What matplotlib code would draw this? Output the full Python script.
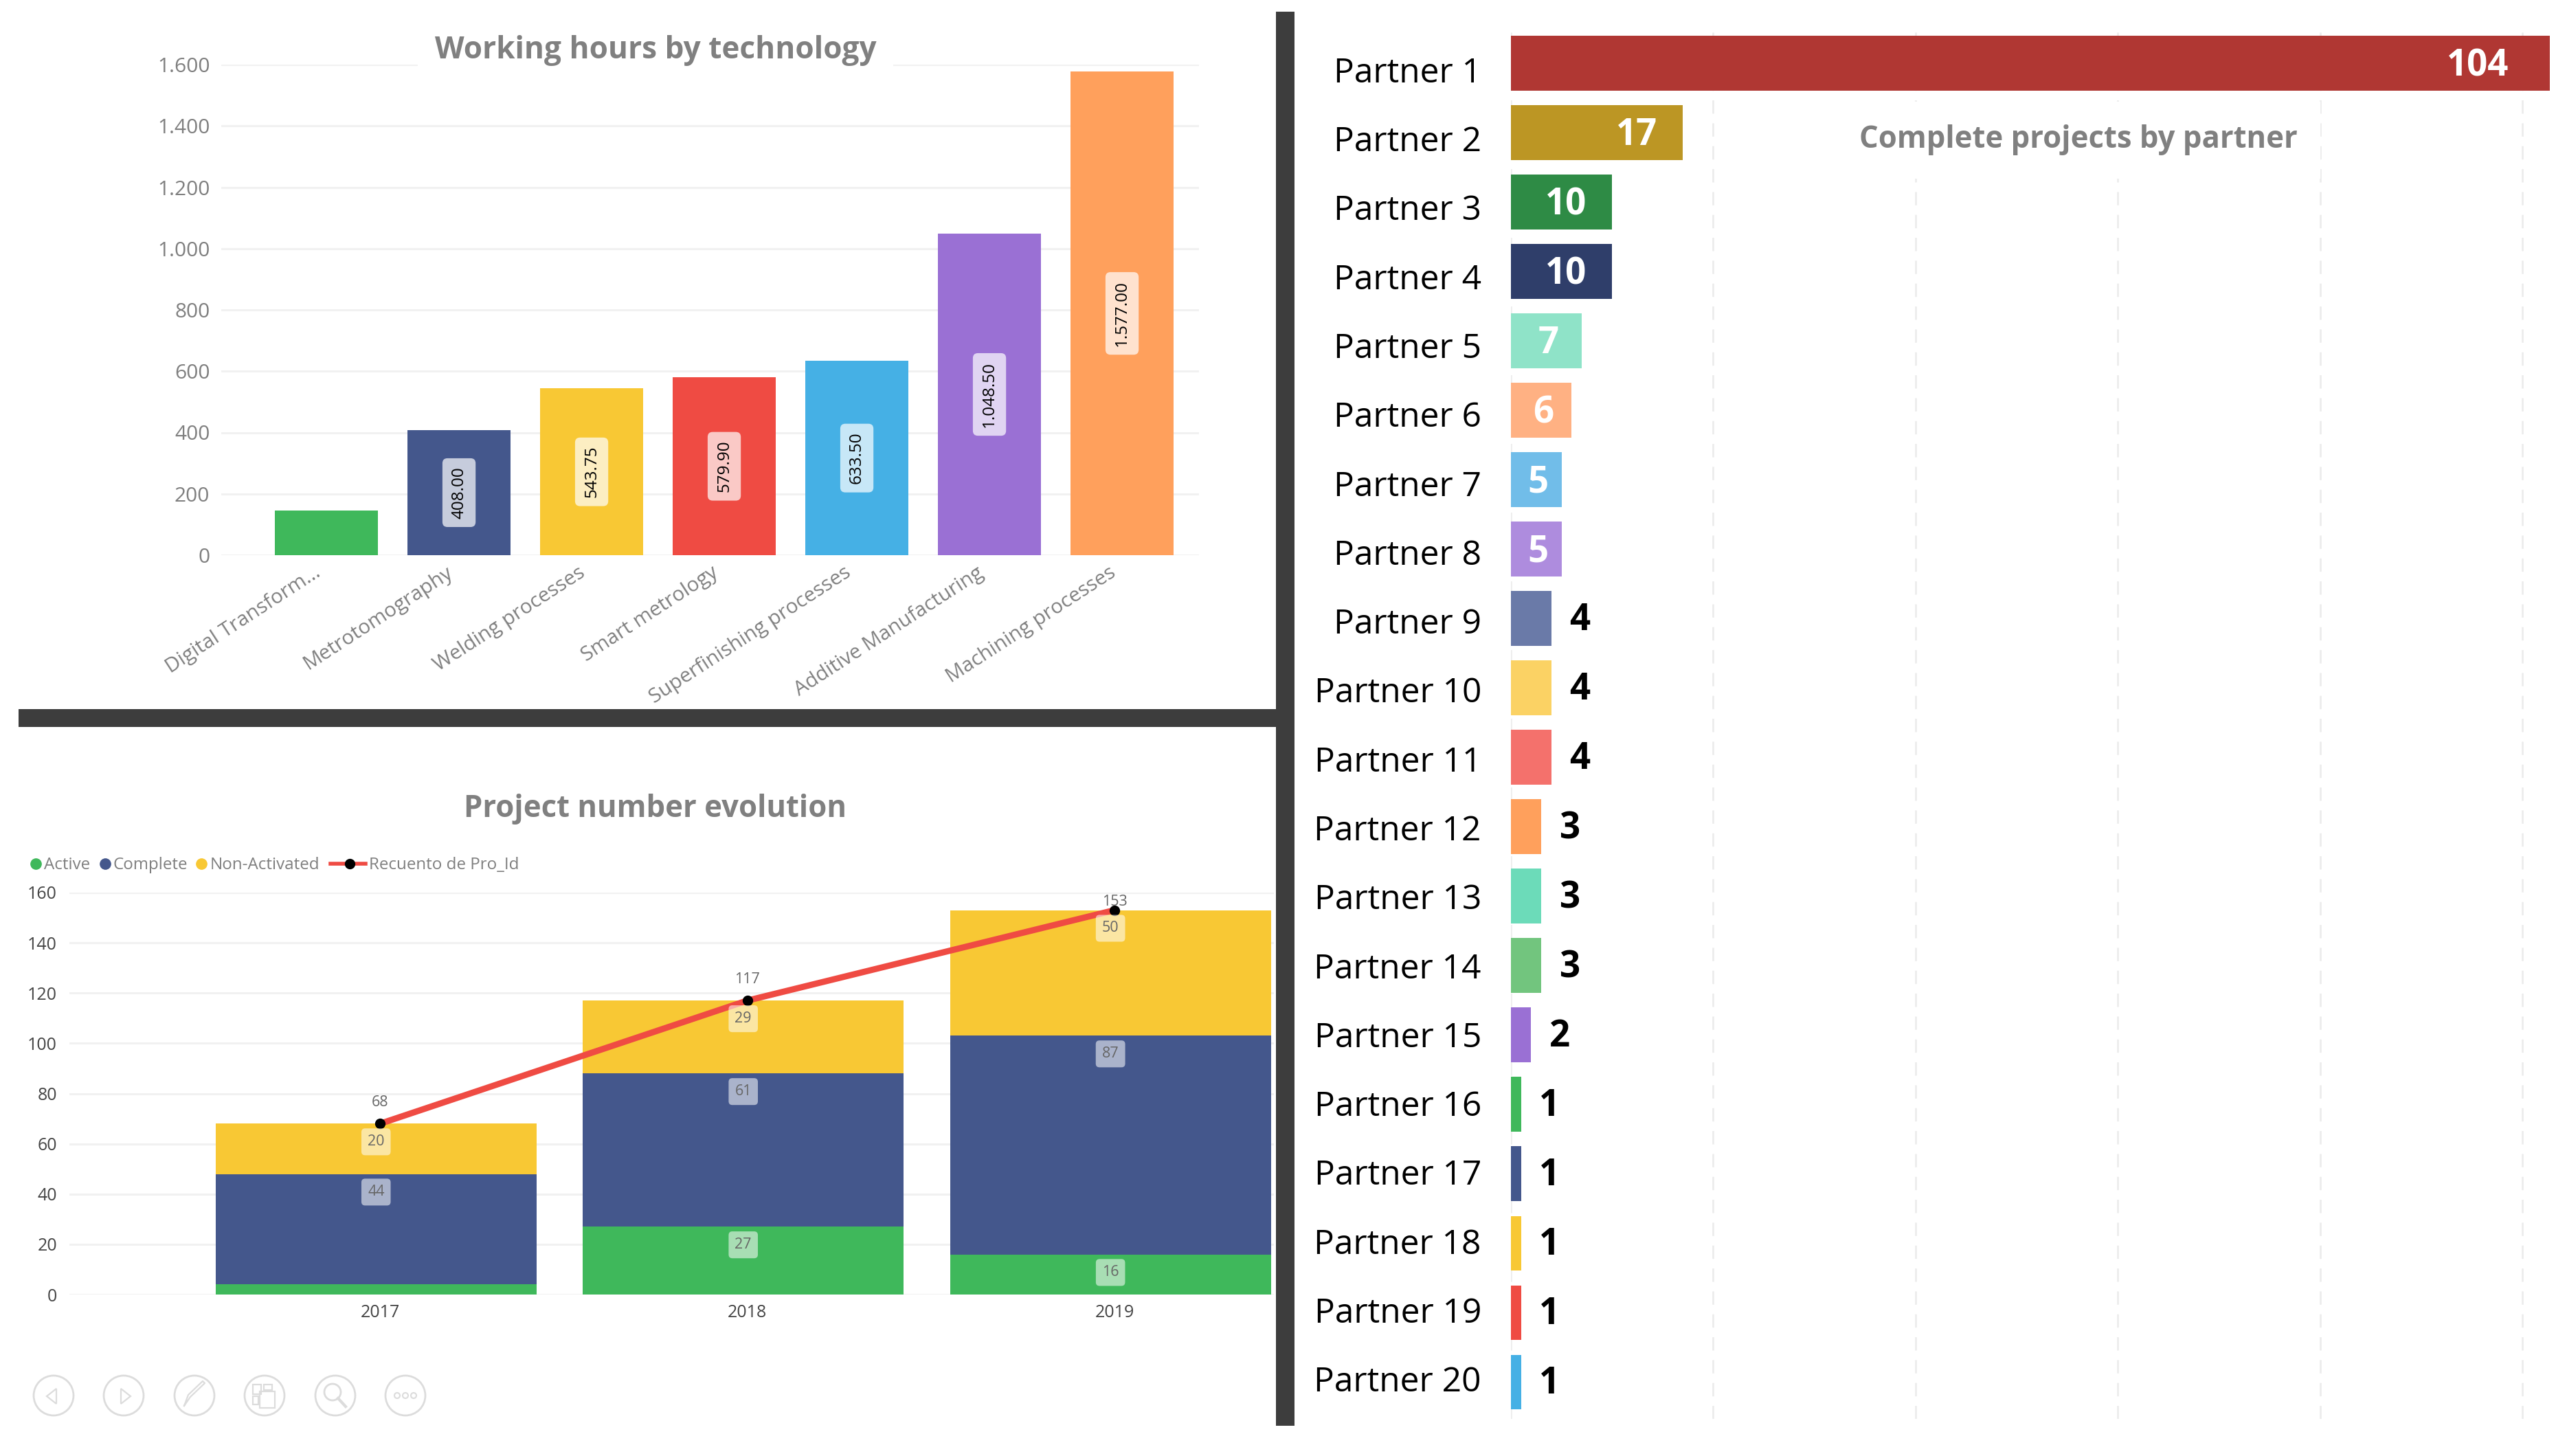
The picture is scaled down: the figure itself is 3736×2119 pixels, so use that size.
import matplotlib
matplotlib.use("Agg")
import matplotlib.pyplot as plt
from matplotlib.lines import Line2D
from matplotlib.patches import Circle, Polygon, Rectangle
from matplotlib.transforms import ScaledTranslation

W, H = 3737, 2119
plt.rcParams['font.family'] = ['Open Sans', 'DejaVu Sans']

GREEN = "#3FB85B"
NAVY = "#44578C"
YELLOW = "#F8C834"
RED = "#EF4B43"
BLUE = "#45B0E5"
PURPLE = "#9A70D4"
ORANGE = "#FFA05C"
GRID = "#F1F1F1"
DARK = "#3D3D3D"
TITLE_GREY = "#808080"

# Working hours by technology
technologies = ["Digital Transform...", "Metrotomography", "Welding processes", "Smart metrology",
                "Superfinishing processes", "Additive Manufacturing", "Machining processes"]
tech_hours = [145, 408.00, 543.75, 579.90, 633.50, 1048.50, 1577.00]
tech_labels = [None, "408.00", "543.75", "579.90", "633.50", "1.048.50", "1.577.00"]
tech_colors = [GREEN, NAVY, YELLOW, RED, BLUE, PURPLE, ORANGE]
hour_ticks = [0, 200, 400, 600, 800, 1000, 1200, 1400, 1600]
hour_tick_labels = ["0", "200", "400", "600", "800", "1.000", "1.200", "1.400", "1.600"]

# Project number evolution
years = ["2017", "2018", "2019"]
active = [4, 27, 16]
complete = [44, 61, 87]
non_activated = [20, 29, 50]
project_total = [68, 117, 153]
project_ticks = [0, 20, 40, 60, 80, 100, 120, 140, 160]

# Complete projects by partner
partners = ["Partner %d" % i for i in range(1, 21)]
partner_projects = [104, 17, 10, 10, 7, 6, 5, 5, 4, 4, 4, 3, 3, 3, 2, 1, 1, 1, 1, 1]
partner_colors = ["#B03733", "#BC9624", "#2E8B45", "#2F3E6A", "#8FE3C8", "#FFB183", "#71BDE9",
                  "#AE8CDE", "#6A7AA8", "#FBD264", "#F4716C", "#FFA05C", "#6CDBB9", "#72C57E",
                  PURPLE, GREEN, NAVY, YELLOW, RED, BLUE]
partner_ticks = [0, 20, 40, 60, 80, 100]


def add_axes_px(fig, x0, y0, x1, y1, **kw):
    return fig.add_axes([x0 / W, 1 - y1 / H, (x1 - x0) / W, (y1 - y0) / H], **kw)


def clean_axes(ax):
    for side in ax.spines:
        ax.spines[side].set_visible(False)
    ax.set_axisbelow(True)


def draw_hours(fig):
    ax = add_axes_px(fig, 322, 94, 1745, 808)
    clean_axes(ax)
    pos = list(range(len(technologies)))
    ax.bar(pos, tech_hours, width=0.78, color=tech_colors)
    ax.set_xlim(-0.793, 6.58)
    ax.set_ylim(0, 1600)
    ax.set_yticks(hour_ticks, hour_tick_labels, fontsize=21.5, color="#7F7F7F")
    ax.set_xticks(pos, technologies, fontsize=21.3, color="#7F7F7F", rotation=33, ha="right",
                  rotation_mode="anchor")
    ax.tick_params(axis="both", length=0)
    ax.tick_params(axis="y", pad=12)
    ax.tick_params(axis="x", pad=8)
    # labels end a little left of the bar centres
    shift = ScaledTranslation(-14 / 72, 0, fig.dpi_scale_trans)
    for label in ax.get_xticklabels():
        label.set_transform(label.get_transform() + shift)
    ax.grid(axis="y", color=GRID, linewidth=2.2)
    for p, v, label in zip(pos, tech_hours, tech_labels):
        if label is None:
            continue
        ax.text(p, v / 2, label, rotation=90, ha="center", va="center", fontsize=17.5, color="black",
                bbox=dict(boxstyle="round,pad=0.5,rounding_size=0.3", fc="white", ec="none", alpha=0.7))


def draw_projects(fig):
    ax = add_axes_px(fig, 101, 1299, 1854, 1884)
    clean_axes(ax)
    pos = list(range(len(years)))
    bar_pos = [p - 0.011 for p in pos]
    bottoms = [0, 0, 0]
    for values, color in ((active, GREEN), (complete, NAVY), (non_activated, YELLOW)):
        ax.bar(bar_pos, values, width=0.874, bottom=bottoms, color=color)
        for x, b, v in zip(bar_pos, bottoms, values):
            if v < 10:
                continue
            ax.annotate(str(v), (x, b + v), xytext=(0, -19), textcoords="offset points", ha="center",
                        va="center", fontsize=15.5, color="#666666",
                        bbox=dict(boxstyle="round,pad=0.42,rounding_size=0.25", fc="white", ec="none", alpha=0.55))
        bottoms = [b + v for b, v in zip(bottoms, values)]
    ax.plot(pos, project_total, color=RED, linewidth=6.5, marker="o", markersize=10,
            markerfacecolor="black", markeredgecolor="black", solid_capstyle="round")
    for p, v in zip(pos, project_total):
        offset = 9 if v > 150 else 22
        ax.annotate(str(v), (p, v), xytext=(0, offset), textcoords="offset points", ha="center",
                    va="center", fontsize=15.5, color="#666666", annotation_clip=False)
    ax.set_xlim(-0.846, 2.434)
    ax.set_ylim(0, 160)
    ax.set_xticks(pos, years, fontsize=18, color="#444444")
    ax.set_yticks(project_ticks, [str(t) for t in project_ticks], fontsize=18, color="#444444")
    ax.tick_params(axis="both", length=0)
    ax.tick_params(axis="y", pad=13)
    ax.tick_params(axis="x", pad=10)
    ax.grid(axis="y", color=GRID, linewidth=2.2)


def draw_partners(fig):
    ax = add_axes_px(fig, 2199, 47, 3711, 2065)
    clean_axes(ax)
    pos = list(range(len(partners)))
    ax.barh(pos, partner_projects, height=0.79, color=partner_colors)
    ax.set_xlim(0, 102.7)
    ax.set_ylim(19.53, -0.446)
    ax.set_xticks(partner_ticks, [""] * len(partner_ticks))
    # the row names sit on a slightly tighter step than the bars
    ax.set_yticks([p * 0.9927 + 0.09 for p in pos], partners, fontsize=35.7, color="black")
    ax.tick_params(axis="both", length=0)
    ax.tick_params(axis="y", pad=31)
    ax.grid(axis="x", color="#EDEDED", linewidth=2, linestyle=(0, (7, 5)))
    for p, v in zip(pos, partner_projects):
        if v >= 10:
            ax.annotate(str(v), (min(v, 102.7), p), xytext=(-27 if v < 100 else -43, -3), textcoords="offset points",
                        ha="right", va="center", fontsize=38, fontweight="bold", color="white")
        elif v >= 5:
            ax.annotate(str(v), (v / 2, p), xytext=(2, -3), textcoords="offset points", ha="center",
                        va="center", fontsize=38, fontweight="bold", color="white")
        else:
            ax.annotate(str(v), (v, p), xytext=(19, -2), textcoords="offset points", ha="left",
                        va="center", fontsize=38, fontweight="bold", color="black")


def draw_legend(ov):
    y = 1259
    entries = [(52, 64, GREEN, "Active"), (153, 165, NAVY, "Complete"), (293, 306, YELLOW, "Non-Activated")]
    for dot_x, text_x, color, label in entries:
        ov.plot([dot_x], [y - 2], marker="o", markersize=11, color=color, linestyle="none")
        ov.text(text_x, y, label, fontsize=17.4, color="#7F7F7F", va="center", ha="left")
    ov.add_line(Line2D([481, 532], [y - 2, y - 2], color=RED, linewidth=4))
    ov.plot([509], [y - 2], marker="o", markersize=10, color="black", linestyle="none")
    ov.text(537, y, "Recuento de Pro_Id", fontsize=17.4, color="#7F7F7F", va="center", ha="left")


def draw_icons(ov):
    c = "#DCDCDC"
    centers = [78, 180, 283, 385, 488, 590]
    y = 2031
    for x in centers:
        ov.add_patch(Circle((x, y), 29, fill=False, ec=c, lw=2))
    ov.add_patch(Polygon([(82, 2021), (82, 2043), (68, 2032)], fill=False, ec=c, lw=1.6))
    ov.add_patch(Polygon([(176, 2021), (176, 2043), (190, 2032)], fill=False, ec=c, lw=1.6))
    # brush
    ov.add_line(Line2D([268, 277, 298, 295, 274, 268], [2046, 2033, 2013, 2010, 2030, 2046], color=c, lw=1.6))
    # pages
    for rx, ry, rw, rh in [(368, 2015, 12, 14), (384, 2015, 12, 8), (368, 2032, 8, 12), (378, 2025, 22, 24)]:
        ov.add_patch(Rectangle((rx, ry), rw, rh, fill=False, ec=c, lw=1.6))
    # magnifier
    ov.add_patch(Circle((484, 2026), 12, fill=False, ec=c, lw=2))
    ov.add_line(Line2D([492, 503], [2035, 2047], color=c, lw=3))
    # dots
    for dx in (-12, 0, 12):
        ov.add_patch(Circle((590 + dx, 2031), 4, fill=False, ec=c, lw=1.5))


def main():
    fig = plt.figure(figsize=(W / 100, H / 100), dpi=100, facecolor="white")
    draw_hours(fig)
    draw_projects(fig)
    draw_partners(fig)

    # pixel overlay for titles, dividers, legend and the viewer buttons
    ov = add_axes_px(fig, 0, 0, W, H, zorder=5)
    ov.set_xlim(0, W)
    ov.set_ylim(H, 0)
    ov.axis("off")
    ov.patch.set_alpha(0)

    ov.add_patch(Rectangle((1857, 17), 27, 2058, fc=DARK, ec="none"))
    ov.add_patch(Rectangle((27, 1032), 1830, 26, fc=DARK, ec="none"))

    ov.text(954, 73, "Working hours by technology", fontsize=31.8, fontweight="bold", color=TITLE_GREY,
            ha="center", va="center", bbox=dict(fc="white", ec="none", pad=18))
    ov.text(954, 1177, "Project number evolution", fontsize=31.4, fontweight="bold", color=TITLE_GREY,
            ha="center", va="center")
    ov.text(3025, 204, "Complete projects by partner", fontsize=31.4, fontweight="bold", color=TITLE_GREY,
            ha="center", va="center", bbox=dict(fc="white", ec="none", pad=24))

    draw_legend(ov)
    draw_icons(ov)

    fig.savefig("out.png", dpi=100, facecolor="white")


if __name__ == "__main__":
    main()
